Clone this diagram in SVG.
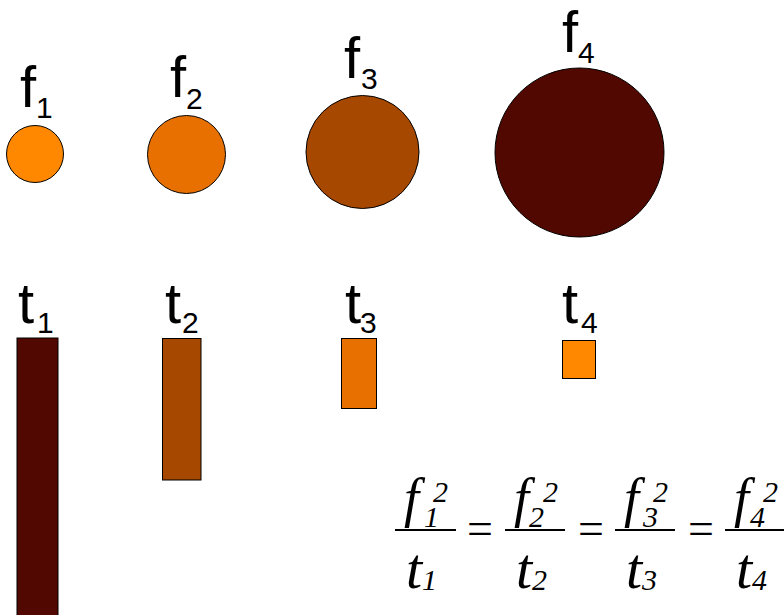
<svg xmlns="http://www.w3.org/2000/svg" width="784" height="615" viewBox="0 0 784 615">
<style>
.sh{stroke:#000;stroke-width:1}
.c1{fill:#FF8800}.c2{fill:#E87000}.c3{fill:#A64800}.c4{fill:#500800}
.lb{font-family:"Liberation Sans",Arial,sans-serif;font-size:58px;fill:#000}
.sb{font-family:"Liberation Sans",Arial,sans-serif;font-size:30px;fill:#000}
.m{font-family:"Liberation Serif","Times New Roman",serif;font-style:italic;font-size:54px;fill:#000}
.mt{font-family:"Liberation Serif","Times New Roman",serif;font-style:italic;font-size:58px;fill:#000}
.ms{font-family:"Liberation Serif","Times New Roman",serif;font-style:italic;font-size:30px;fill:#000}
.eq{font-family:"Liberation Serif","Times New Roman",serif;font-size:46px;fill:#000}
.bar{stroke:#000;stroke-width:2}
</style>
<rect width="784" height="615" fill="#fff"/>
<g id="f1"><circle class="sh c1" cx="35" cy="154" r="28.5"/><text class="lb" x="20" y="107">f</text><text class="sb" x="36" y="118">1</text></g>
<g id="f2"><circle class="sh c2" cx="186.5" cy="154.5" r="39"/><text class="lb" x="170" y="97">f</text><text class="sb" x="186" y="109">2</text></g>
<g id="f3"><circle class="sh c3" cx="362.5" cy="152" r="56.5"/><text class="lb" x="344" y="78">f</text><text class="sb" x="361" y="89">3</text></g>
<g id="f4"><circle class="sh c4" cx="579.5" cy="152.5" r="84.5"/><text class="lb" x="562" y="52">f</text><text class="sb" x="578" y="63">4</text></g>
<g id="t1"><rect class="sh c4" x="17" y="338" width="41" height="290"/><text class="lb" x="18" y="323">t</text><text class="sb" x="37" y="333">1</text></g>
<g id="t2"><rect class="sh c3" x="162.5" y="338.5" width="38.5" height="141.5"/><text class="lb" x="165" y="323">t</text><text class="sb" x="182" y="333">2</text></g>
<g id="t3"><rect class="sh c2" x="341.5" y="338.5" width="35" height="70"/><text class="lb" x="345" y="323">t</text><text class="sb" x="360" y="333">3</text></g>
<g id="t4"><rect class="sh c1" x="562.5" y="340.5" width="33" height="38"/><text class="lb" x="562" y="323">t</text><text class="sb" x="581" y="333">4</text></g>
<g id="formula">
<text class="m" x="404" y="516">f</text><text class="ms" x="424" y="527">1</text><text class="ms" x="433" y="502">2</text>
<line class="bar" x1="395" y1="530" x2="456" y2="530"/>
<text class="mt" x="406" y="588">t</text><text class="ms" x="422" y="590">1</text>
<text class="eq" x="467" y="544">=</text>
<text class="m" x="514" y="516">f</text><text class="ms" x="529" y="527">2</text><text class="ms" x="543" y="502">2</text>
<line class="bar" x1="505" y1="530" x2="565" y2="530"/>
<text class="mt" x="516" y="588">t</text><text class="ms" x="532" y="590">2</text>
<text class="eq" x="578" y="544">=</text>
<text class="m" x="624" y="516">f</text><text class="ms" x="643" y="527">3</text><text class="ms" x="653" y="502">2</text>
<line class="bar" x1="615" y1="530" x2="675" y2="530"/>
<text class="mt" x="626" y="588">t</text><text class="ms" x="642" y="590">3</text>
<text class="eq" x="688" y="544">=</text>
<text class="m" x="734" y="516">f</text><text class="ms" x="750" y="527">4</text><text class="ms" x="763" y="502">2</text>
<line class="bar" x1="725" y1="530" x2="790" y2="530"/>
<text class="mt" x="736" y="588">t</text><text class="ms" x="752" y="590">4</text>
</g>
</svg>
